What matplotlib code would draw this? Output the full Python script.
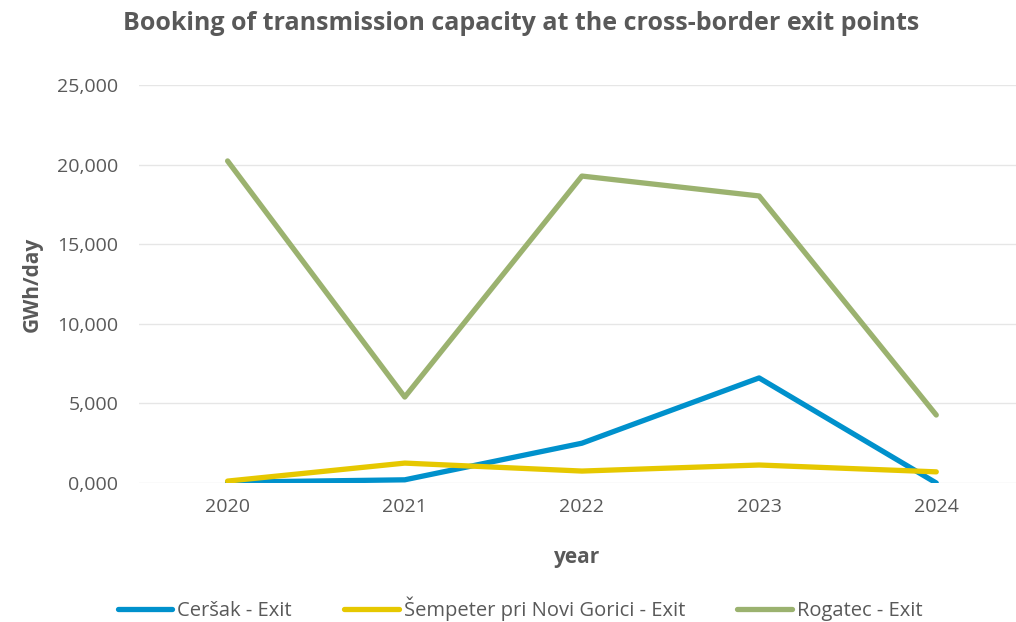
import matplotlib
matplotlib.use('Agg')
import matplotlib.pyplot as plt
from matplotlib.ticker import FuncFormatter, MultipleLocator

years = ['2020', '2021', '2022', '2023', '2024']
cersak = [50, 200, 2500, 6600, 0]
sempeter = [120, 1250, 750, 1130, 700]
rogatec = [20230, 5400, 19280, 18030, 4270]

series_names = ['Ceršak - Exit', 'Šempeter pri Novi Gorici - Exit', 'Rogatec - Exit']
series_colors = ['#0091CC', '#E6C800', '#9BB26F']

plt.rcParams['font.family'] = ['Open Sans', 'DejaVu Sans']
text_color = '#595959'

fig = plt.figure(figsize=(10.16, 6.22), dpi=100)
ax = fig.add_axes([139 / 1016, 139 / 622, (1016 - 139) / 1016, 398 / 622])

x = list(range(len(years)))
for vals, name, col in zip([cersak, sempeter, rogatec], series_names, series_colors):
    ax.plot(x, vals, color=col, lw=3.8, label=name, solid_capstyle='round', zorder=3)

ax.set_xlim(-0.5, 4.45)
ax.set_ylim(0, 25000)
ax.yaxis.set_major_locator(MultipleLocator(5000))
ax.yaxis.set_major_formatter(FuncFormatter(lambda v, p: f"{v / 1000:.3f}".replace('.', ',')))
ax.set_xticks(x)
ax.set_xticklabels(years)

ax.grid(axis='y', color='#e6e6e6', lw=1, zorder=0)
for s in ax.spines.values():
    s.set_visible(False)
ax.tick_params(axis='both', length=0, labelsize=14, colors=text_color)
ax.tick_params(axis='y', pad=15)
ax.tick_params(axis='x', pad=11)

ax.set_xlabel('year', fontsize=15, fontweight='bold', color=text_color, labelpad=22)
ax.set_ylabel('GWh/day', fontsize=15, fontweight='bold', color=text_color, labelpad=10)
fig.text(0.513, 0.963, 'Booking of transmission capacity at the cross-border exit points',
         ha='center', va='center', fontsize=18, fontweight='bold', color=text_color)

fig.legend(loc='center', bbox_to_anchor=(0.512, 0.022), ncol=3, frameon=False,
           fontsize=14.5, labelcolor=text_color, handlelength=2.7, handletextpad=0.25,
           columnspacing=2.6)

fig.savefig('out.png', dpi=100)
